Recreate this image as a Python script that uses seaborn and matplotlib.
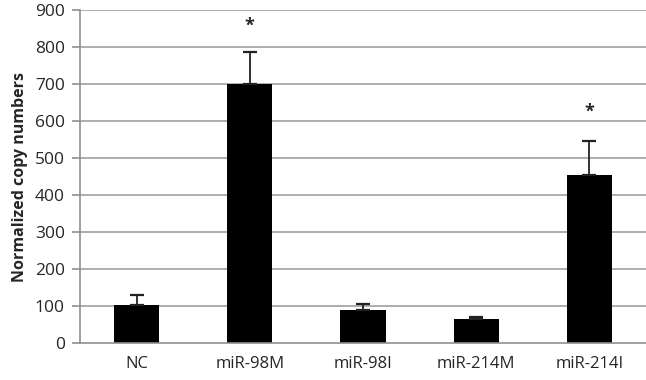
import matplotlib
matplotlib.use("Agg")
import matplotlib.pyplot as plt
import seaborn as sns
import numpy as np

# Veriler
categories = ["NC", "miR-98M", "miR-98I", "miR-214M", "miR-214I"]
values = [103, 700, 90, 65, 454]
errors = [27, 86, 16, 4, 92]
stars = ["", "*", "", "", "*"]
star_y = [0, 858, 0, 0, 624]

sns.set_style("white")
plt.rcParams["font.family"] = ["Open Sans", "DejaVu Sans"]

fig = plt.figure(figsize=(6.46, 3.8), dpi=100)
ax = fig.add_axes([80 / 646, 37 / 380, 566 / 646, 333 / 380])

ax.set_ylim(0, 900)
ax.set_yticks(range(0, 901, 100))
for yv in range(100, 901, 100):
    ax.axhline(yv, color="#a0a0a0", lw=1.2, zorder=0)

sns.barplot(x=categories, y=values, color="black", width=0.4, ax=ax,
            saturation=1, edgecolor="black", linewidth=0, zorder=2)
x = np.arange(len(categories))
ax.errorbar(x, values, yerr=[np.zeros(len(values)), errors], fmt="none",
            ecolor="#222222", elinewidth=1.3, capsize=5, capthick=1.6, zorder=3)
for i, s in enumerate(stars):
    if s:
        ax.text(i, star_y[i], s, ha="center", va="center", fontsize=13,
                fontweight="bold")

ax.set_xlim(-0.5, len(categories) - 0.5)
ax.set_xticks(x)
ax.set_xticklabels(categories, fontsize=12)
ax.set_xticks(np.arange(-0.5, len(categories)), minor=True)
ax.tick_params(axis="x", which="major", length=0, pad=9)
ax.tick_params(axis="x", which="minor", length=5, color="#909090", width=1.2)
ax.tick_params(axis="y", length=6, color="#909090", width=1.2, labelsize=12.5,
               pad=5, left=True)

for sp in ["top", "right"]:
    ax.spines[sp].set_visible(False)
for sp in ["left", "bottom"]:
    ax.spines[sp].set_color("#909090")
    ax.spines[sp].set_linewidth(1.2)

ax.set_ylabel("Normalized copy numbers", fontsize=11.5, fontweight="bold",
              labelpad=5)
ax.set_xlabel("")

fig.savefig("out.png", dpi=100)
